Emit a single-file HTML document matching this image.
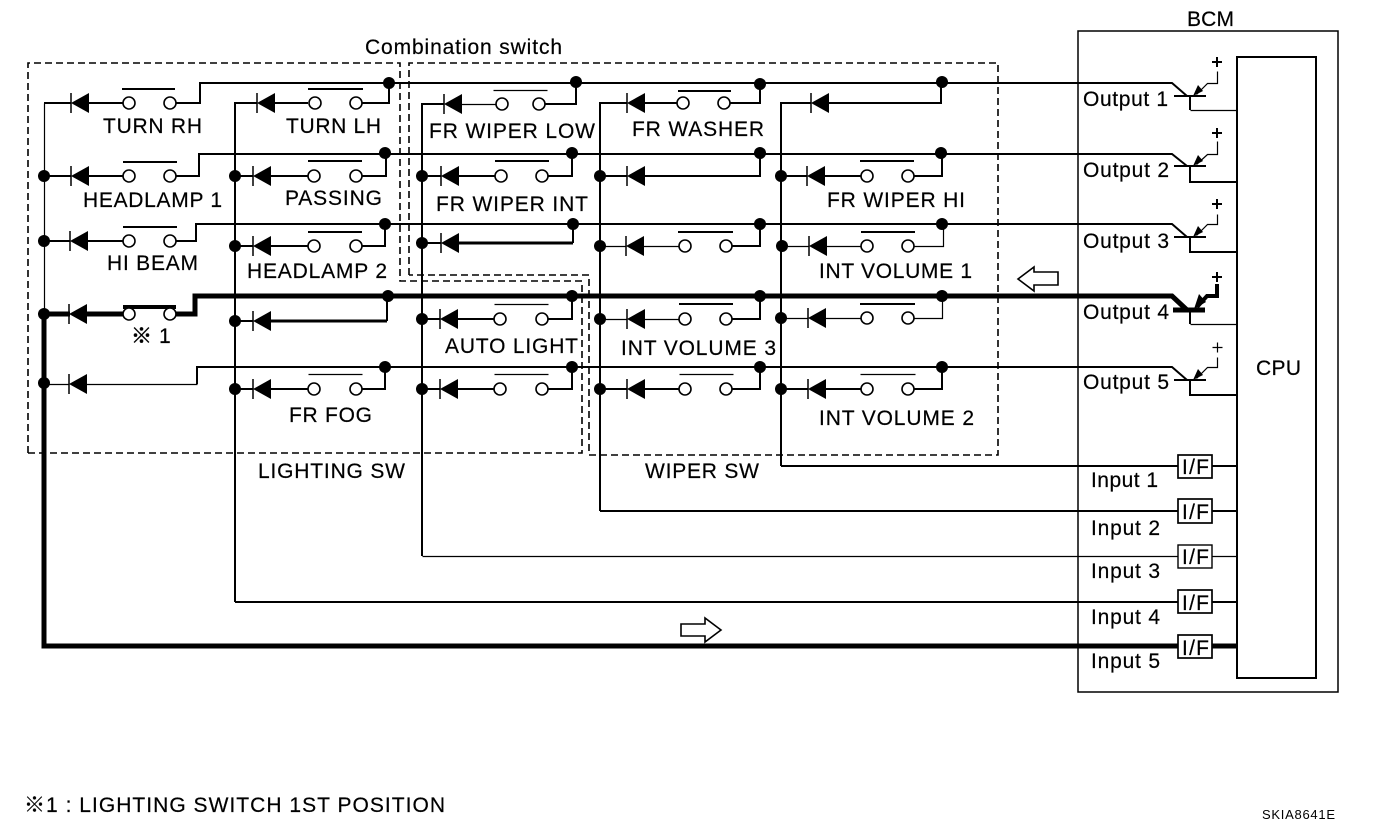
<!DOCTYPE html>
<html><head><meta charset="utf-8"><style>
html,body{margin:0;padding:0;background:#fff}
svg{display:block}
text{font-family:"Liberation Sans","Noto Sans CJK JP",sans-serif;font-size:21px;fill:#000;stroke:#000;stroke-width:.2}
.w{fill:none;stroke:#000;stroke-width:2}
.t{fill:none;stroke:#000;stroke-width:1.2;transform:translate(.5px,.5px)}
.k{fill:none;stroke:#000;stroke-width:3}
.h{fill:none;stroke:#000;stroke-width:5}
.d{fill:none;stroke:#000;stroke-width:1.6;stroke-dasharray:7 4}
</style></head><body>
<svg width="1376" height="830" viewBox="0 0 1376 830" xmlns="http://www.w3.org/2000/svg">
<defs>
<g id="di"><path d="M0 -10V10" stroke="#000" stroke-width="1.5"/><path d="M0 0L18 -10V10Z" fill="#000"/></g>
<circle id="c" r="6" fill="#fff" stroke="#000" stroke-width="1.6"/>
<circle id="n" r="6" fill="#000"/>
</defs>

<!-- dashed boxes -->
<path class="d" d="M28 453V63H400V281H582V453H28"/>
<path class="d" d="M409 275V63H998V455H589V275H409"/>

<!-- buses -->
<path class="w" d="M176 103H200V83H1172L1187 96"/>
<path class="w" d="M176 176H199V154H1172L1187 166"/>
<path class="w" d="M176 241H196V224H1172L1187 237"/>
<path class="h" d="M176 314H195V296H1172L1187 310"/>
<path class="w" d="M197 384V367H1172L1187 380"/>
<path class="t" d="M86 384H197"/>

<!-- column 1 -->
<path class="t" d="M44 103V314"/>
<path class="w" d="M44 103H71M87 103H123M44 176H71M87 176H123M44 241H70M87 241H123"/>
<path class="t" d="M44 384H69"/>
<path class="h" d="M44 314V646H1237"/>
<path class="h" d="M44 314H70M86 314H123"/>

<!-- column 2 -->
<path class="w" d="M235 602V103H257M273 103H308M362 103H389V83"/>
<path class="w" d="M235 176H253M269 176H308M362 176H386V154"/>
<path class="w" d="M235 246H253M269 246H308M362 246H385V224"/>
<path class="w" d="M235 321H253M387 321V296"/>
<path class="k" d="M269 321H387"/>
<path class="w" d="M235 389H253M269 389H308M362 389H385V367"/>
<path class="w" d="M235 602H1178M1212 602H1237"/>

<!-- column 3 -->
<path class="w" d="M422 556V104H444"/>
<path class="t" d="M460 104H496"/>
<path class="w" d="M545 104H576V82M422 176H441M457 176H495M548 176H572V154"/>
<path class="w" d="M422 243H441M573 243V224"/>
<path class="k" d="M457 243H573"/>
<path class="w" d="M422 319H440M456 319H494M548 319H572V296M422 389H440M456 389H494M548 389H572V367"/>
<path class="t" d="M422 556H1178M1212 556H1237"/>

<!-- column 4 -->
<path class="w" d="M600 511V103H627M643 103H678M730 103H760V84M600 176H627M643 176H760V153"/>
<path class="t" d="M600 246H626M643 246H679"/>
<path class="w" d="M732 246H760V224"/>
<path class="t" d="M600 319H627M643 319H679"/>
<path class="w" d="M732 319H760V296M600 389H627M643 389H679M732 389H760V367"/>
<path class="w" d="M600 511H1178M1212 511H1237"/>

<!-- column 5 -->
<path class="w" d="M781 466V103H811M827 103H941V82M781 176H807M823 176H861M914 176H942V153"/>
<path class="t" d="M782 246H809M825 246H861M914 246H943V224"/>
<path class="t" d="M781 318H808M824 318H861M914 318H942V296"/>
<path class="w" d="M781 389H808M824 389H861M914 389H942V367"/>
<path class="w" d="M781 466H1178M1212 466H1237"/>

<!-- BCM -->
<rect x="1078" y="31" width="260" height="661" fill="none" stroke="#000" stroke-width="1.5"/>
<rect x="1237" y="57" width="79" height="621" fill="none" stroke="#000" stroke-width="2"/>

<!-- transistors -->
<path class="w" d="M1174 96H1206M1190 96V110"/><path class="t" d="M1190 110H1237M1217 71V83H1207L1196 94"/><path d="M1193 96L1203 91L1198 85Z"/>
<path class="w" d="M1174 166H1206M1190 166V182H1237"/><path class="t" d="M1217 141V154H1207L1196 164"/><path d="M1193 166L1203 161L1198 155Z"/>
<path class="w" d="M1174 237H1206M1190 237V252H1237"/><path class="t" d="M1217 214V224H1207L1196 235"/><path d="M1193 237L1203 232L1198 226Z"/>
<path class="h" d="M1173 310H1205"/><path class="w" d="M1190 310V324"/><path class="t" d="M1190 324H1237"/><path class="k" style="stroke-width:4" d="M1217 284V296H1207L1197 307"/><path d="M1194 309L1206 302L1199 294Z"/>
<path class="w" d="M1174 380H1206M1190 380V395H1237"/><path class="t" d="M1217 357V367H1207L1196 378"/><path d="M1193 380L1203 375L1198 369Z"/>
<path class="w" d="M1212 62H1222M1217 57V67M1212 133H1222M1217 128V138M1212 204H1222M1217 199V209M1212 277H1222M1217 272V282"/>
<path class="t" d="M1212 347H1222M1217 342V352"/>

<!-- I/F boxes -->
<g fill="#fff" stroke="#000" stroke-width="1.7">
<rect x="1178" y="455" width="34" height="23"/>
<rect x="1178" y="499" width="34" height="24"/>
<rect x="1178" y="545" width="34" height="23" stroke-width="1.4"/>
<rect x="1178" y="590" width="34" height="23"/>
<rect x="1178" y="635" width="34" height="23"/>
</g>

<!-- diodes -->
<use href="#di" x="71" y="103"/><use href="#di" x="71" y="176"/><use href="#di" x="70" y="241"/><use href="#di" x="69" y="314"/><use href="#di" x="69" y="384"/>
<use href="#di" x="257" y="103"/><use href="#di" x="253" y="176"/><use href="#di" x="253" y="246"/><use href="#di" x="253" y="321"/><use href="#di" x="253" y="389"/>
<use href="#di" x="444" y="104"/><use href="#di" x="441" y="176"/><use href="#di" x="441" y="243"/><use href="#di" x="440" y="319"/><use href="#di" x="440" y="389"/>
<use href="#di" x="627" y="103"/><use href="#di" x="627" y="176"/><use href="#di" x="626" y="246"/><use href="#di" x="627" y="319"/><use href="#di" x="627" y="389"/>
<use href="#di" x="811" y="103"/><use href="#di" x="807" y="176"/><use href="#di" x="809" y="246"/><use href="#di" x="808" y="318"/><use href="#di" x="808" y="389"/>

<!-- switch bars -->
<path class="w" d="M122 89H175M123 162H177M123 227H177M308 89H363M308 161H362M308 232H362M495 161H549M678 91H731M678 232H733M679 304H733M860 161H914M861 232H915M860 304H915"/>
<path class="t" d="M308 374H362M493 90H547M494 304H548M494 374H548M679 374H733M860 374H915"/>
<path class="h" style="stroke-width:4" d="M123 307H176"/>

<!-- switch contacts -->
<use href="#c" x="129" y="103"/><use href="#c" x="170" y="103"/><use href="#c" x="315" y="103"/><use href="#c" x="356" y="103"/>
<use href="#c" x="129" y="176"/><use href="#c" x="170" y="176"/><use href="#c" x="314" y="176"/><use href="#c" x="356" y="176"/>
<use href="#c" x="129" y="241"/><use href="#c" x="170" y="241"/><use href="#c" x="314" y="246"/><use href="#c" x="356" y="246"/>
<use href="#c" x="129" y="314"/><use href="#c" x="170" y="314"/>
<use href="#c" x="314" y="389"/><use href="#c" x="356" y="389"/>
<use href="#c" x="502" y="104"/><use href="#c" x="539" y="104"/><use href="#c" x="501" y="176"/><use href="#c" x="542" y="176"/>
<use href="#c" x="500" y="319"/><use href="#c" x="542" y="319"/><use href="#c" x="500" y="389"/><use href="#c" x="542" y="389"/>
<use href="#c" x="683" y="103"/><use href="#c" x="724" y="103"/><use href="#c" x="685" y="246"/><use href="#c" x="726" y="246"/>
<use href="#c" x="685" y="319"/><use href="#c" x="726" y="319"/><use href="#c" x="685" y="389"/><use href="#c" x="726" y="389"/>
<use href="#c" x="867" y="176"/><use href="#c" x="908" y="176"/><use href="#c" x="867" y="246"/><use href="#c" x="908" y="246"/>
<use href="#c" x="867" y="318"/><use href="#c" x="908" y="318"/><use href="#c" x="867" y="389"/><use href="#c" x="908" y="389"/>

<!-- junction nodes -->
<use href="#n" x="44" y="176"/><use href="#n" x="44" y="241"/><use href="#n" x="44" y="314"/><use href="#n" x="44" y="383"/>
<use href="#n" x="235" y="176"/><use href="#n" x="235" y="246"/><use href="#n" x="235" y="321"/><use href="#n" x="235" y="389"/>
<use href="#n" x="422" y="176"/><use href="#n" x="422" y="243"/><use href="#n" x="422" y="319"/><use href="#n" x="422" y="389"/>
<use href="#n" x="600" y="176"/><use href="#n" x="600" y="246"/><use href="#n" x="600" y="319"/><use href="#n" x="600" y="389"/>
<use href="#n" x="781" y="176"/><use href="#n" x="782" y="246"/><use href="#n" x="781" y="318"/><use href="#n" x="781" y="389"/>
<use href="#n" x="389" y="83"/><use href="#n" x="385" y="153"/><use href="#n" x="385" y="224"/><use href="#n" x="388" y="296"/><use href="#n" x="385" y="367"/>
<use href="#n" x="576" y="82"/><use href="#n" x="572" y="153"/><use href="#n" x="573" y="224"/><use href="#n" x="572" y="296"/><use href="#n" x="572" y="367"/>
<use href="#n" x="760" y="84"/><use href="#n" x="760" y="153"/><use href="#n" x="760" y="224"/><use href="#n" x="760" y="296"/><use href="#n" x="760" y="367"/>
<use href="#n" x="942" y="82"/><use href="#n" x="941" y="153"/><use href="#n" x="942" y="224"/><use href="#n" x="942" y="296"/><use href="#n" x="942" y="367"/>

<!-- hollow arrows -->
<path d="M1018 279L1034 267V272H1058V285H1034V291Z" fill="#fff" stroke="#000" stroke-width="1.6"/>
<path d="M721 630L705 618V624H681V636H705V642Z" fill="#fff" stroke="#000" stroke-width="1.6"/>

<!-- labels -->
<text x="103" y="133" textLength="99">TURN RH</text>
<text x="286" y="133" textLength="95">TURN LH</text>
<text x="83" y="207" textLength="139">HEADLAMP 1</text>
<text x="285" y="205" textLength="97">PASSING</text>
<text x="107" y="270" textLength="91">HI BEAM</text>
<text x="247" y="278" textLength="140">HEADLAMP 2</text>
<text x="131" y="343" style="stroke-width:.5">※</text>
<text x="159" y="343">1</text>
<text x="289" y="422" textLength="83">FR FOG</text>
<text x="258" y="478" textLength="147">LIGHTING SW</text>
<text x="365" y="54" textLength="197">Combination switch</text>
<text x="429" y="138" textLength="166">FR WIPER LOW</text>
<text x="632" y="136" textLength="132">FR WASHER</text>
<text x="436" y="211" textLength="152">FR WIPER INT</text>
<text x="827" y="207" textLength="138">FR WIPER HI</text>
<text x="819" y="278" textLength="153">INT VOLUME 1</text>
<text x="445" y="353" textLength="133">AUTO LIGHT</text>
<text x="621" y="355" textLength="155">INT VOLUME 3</text>
<text x="819" y="425" textLength="155">INT VOLUME 2</text>
<text x="645" y="478" textLength="114">WIPER SW</text>
<text x="1187" y="26" textLength="47">BCM</text>
<text x="1083" y="106" textLength="85">Output 1</text>
<text x="1083" y="177" textLength="86">Output 2</text>
<text x="1083" y="248" textLength="86">Output 3</text>
<text x="1083" y="319" textLength="86">Output 4</text>
<text x="1083" y="389" textLength="86">Output 5</text>
<text x="1256" y="375" textLength="45">CPU</text>
<text x="1091" y="487" textLength="67">Input 1</text>
<text x="1091" y="535" textLength="69">Input 2</text>
<text x="1091" y="578" textLength="69">Input 3</text>
<text x="1091" y="624" textLength="69">Input 4</text>
<text x="1091" y="668" textLength="69">Input 5</text>
<text x="1182" y="474" textLength="27">I/F</text>
<text x="1182" y="519" textLength="27">I/F</text>
<text x="1182" y="564" textLength="27">I/F</text>
<text x="1182" y="610" textLength="27">I/F</text>
<text x="1182" y="655" textLength="27">I/F</text>
<text x="24" y="812" textLength="421">※1 : LIGHTING SWITCH 1ST POSITION</text>
<text x="1262" y="819" textLength="73" style="font-size:13px;stroke:none">SKIA8641E</text>
</svg>
</body></html>
